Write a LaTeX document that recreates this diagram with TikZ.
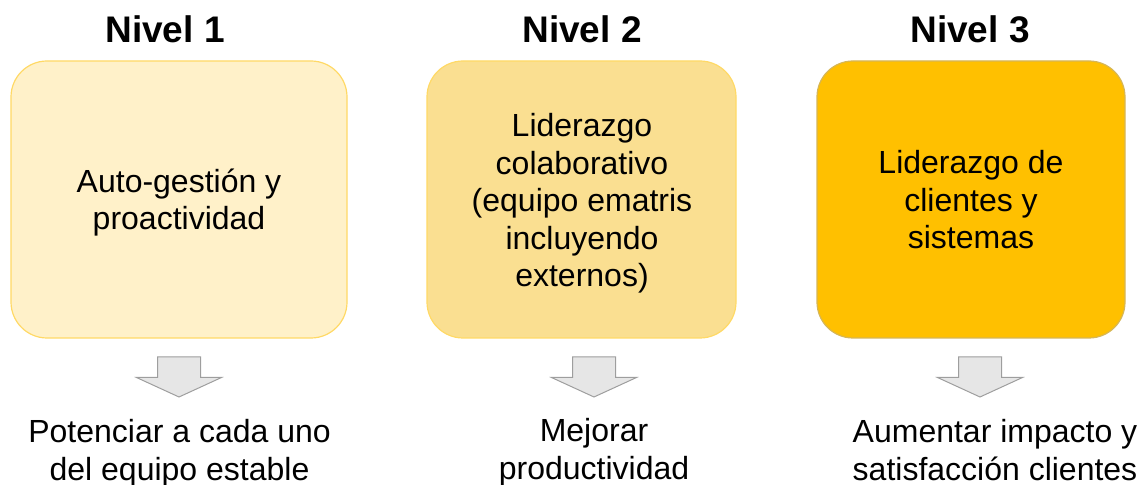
\documentclass[tikz,border=0pt]{standalone}
\usepackage{fontspec}
\setmainfont{Liberation Sans}
\definecolor{fillA}{HTML}{FFF1C9}
\definecolor{fillB}{HTML}{FADF91}
\definecolor{fillC}{HTML}{FFC000}
\definecolor{lineA}{HTML}{FFD966}
\definecolor{lineC}{HTML}{D6B656}
\definecolor{arrfill}{HTML}{E6E6E6}
\definecolor{arrline}{HTML}{9E9E9E}
\tikzset{
  levelbox/.style={rounded corners=36bp, line width=1.2bp},
  titletext/.style={anchor=base, inner sep=0pt, font=\fontsize{37bp}{42bp}\selectfont\bfseries},
  bodytext/.style={anchor=base, inner sep=0pt, align=center, font=\fontsize{32bp}{37.5bp}\selectfont},
  blockarrow/.pic={\draw[fill=arrfill, draw=arrline, line width=1bp, line join=miter]
     (-21.5,0) -- (21.5,0) -- (21.5,20.5) -- (42.5,20.5) -- (0,40) -- (-42.5,20.5) -- (-21.5,20.5) -- cycle;}
}
\begin{document}
\begin{tikzpicture}[x=1bp, y=-1bp]
\useasboundingbox (0,0) rectangle (1146,485);
% boxes
\draw[levelbox, fill=fillA, draw=lineA] (11,61) rectangle (347,338);
\draw[levelbox, fill=fillB, draw=lineA] (427,61) rectangle (736,338);
\draw[levelbox, fill=fillC, draw=lineC] (817,61) rectangle (1125,338);
% titles
\node[titletext] (n1) at (165,43) {Nivel 1};
\node[titletext] (n2) at (582,43) {Nivel 2};
\node[titletext] (n3) at (970,43) {Nivel 3};
% box texts (anchor base = last line's baseline)
\node[bodytext] (t1) at (179,230) {Auto-gestión y\\proactividad};
\node[bodytext] (t2) at (582,287) {Liderazgo\\colaborativo\\(equipo ematris\\incluyendo\\externos)};
\node[bodytext] (t3) at (971,249) {Liderazgo de\\clientes y\\sistemas};
% arrows
\pic at (179,357) {blockarrow};
\pic at (594,357) {blockarrow};
\pic at (980,357) {blockarrow};
% results
\node[bodytext] (r1) at (179.5,480) {Potenciar a cada uno\\del equipo estable};
\node[bodytext] (r2) at (594,479) {Mejorar\\productividad};
\node[bodytext] (r3) at (995,480) {Aumentar impacto y\\satisfacción clientes};
\end{tikzpicture}
\end{document}
